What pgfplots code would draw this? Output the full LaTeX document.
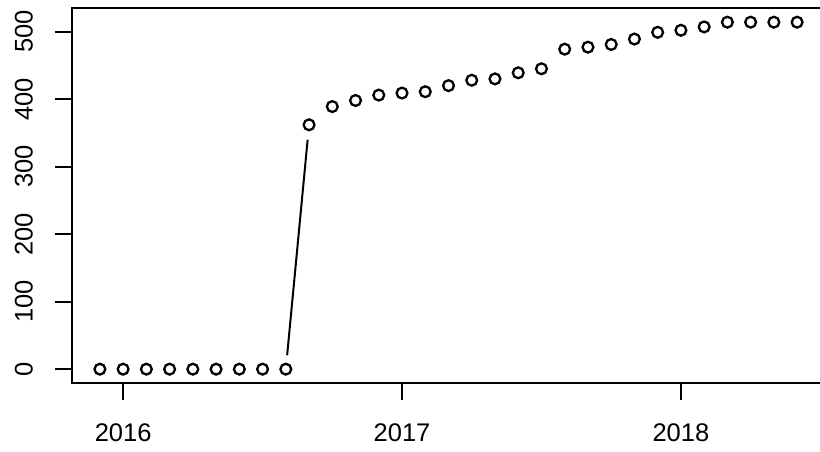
\documentclass[border=0pt]{standalone}
\usepackage{pgfplots}
\pgfplotsset{compat=1.18}
\usepackage{fontspec}
\setmainfont{Liberation Sans}

\begin{document}
\begin{tikzpicture}
\path[use as bounding box] (0pt,0pt) rectangle (820pt,451pt);
\begin{axis}[
    at={(72pt,68pt)}, anchor=south west,
    scale only axis,
    width=753pt, height=375pt,
    xmin=-2.2, xmax=30.2,
    ymin=-20.5, ymax=535,
    xtick={0,12,24},
    xticklabels={2016,2017,2018},
    ytick={0,100,...,500},
    xtick pos=bottom, ytick pos=left,
    tick align=outside,
    major tick length=17pt,
    tick style={line width=2pt, black},
    axis line style={line width=2pt},
    /pgf/number format/assume math mode=true,
    ticklabel style={font=\fontsize{25.5}{30}\selectfont, inner sep=0pt},
    yticklabel style={rotate=90, anchor=south},
    xticklabel style={anchor=north},
    yticklabel shift=22pt,
    xticklabel shift=23pt,
]
% monthly counts, x = months since Jan 2016
\addplot[only marks, mark=o, mark size=5.4pt, black,
         mark options={line width=2.3pt}] coordinates {
    (-1,0) (0,0) (1,0) (2,0) (3,0) (4,0) (5,0) (6,0) (7,0)
    (8,362) (9,389) (10,398) (11,406) (12,409) (13,411) (14,420)
    (15,428) (16,430) (17,439) (18,445) (19,474) (20,477) (21,481)
    (22,489) (23,499) (24,502) (25,507) (26,514) (27,514) (28,514) (29,514)
};
% type="b": only the long segment shows outside the gaps
\addplot[line width=2pt, black, shorten <=14pt, shorten >=15pt] coordinates {
    (7,0) (8,362)
};
\end{axis}
\end{tikzpicture}
\end{document}
